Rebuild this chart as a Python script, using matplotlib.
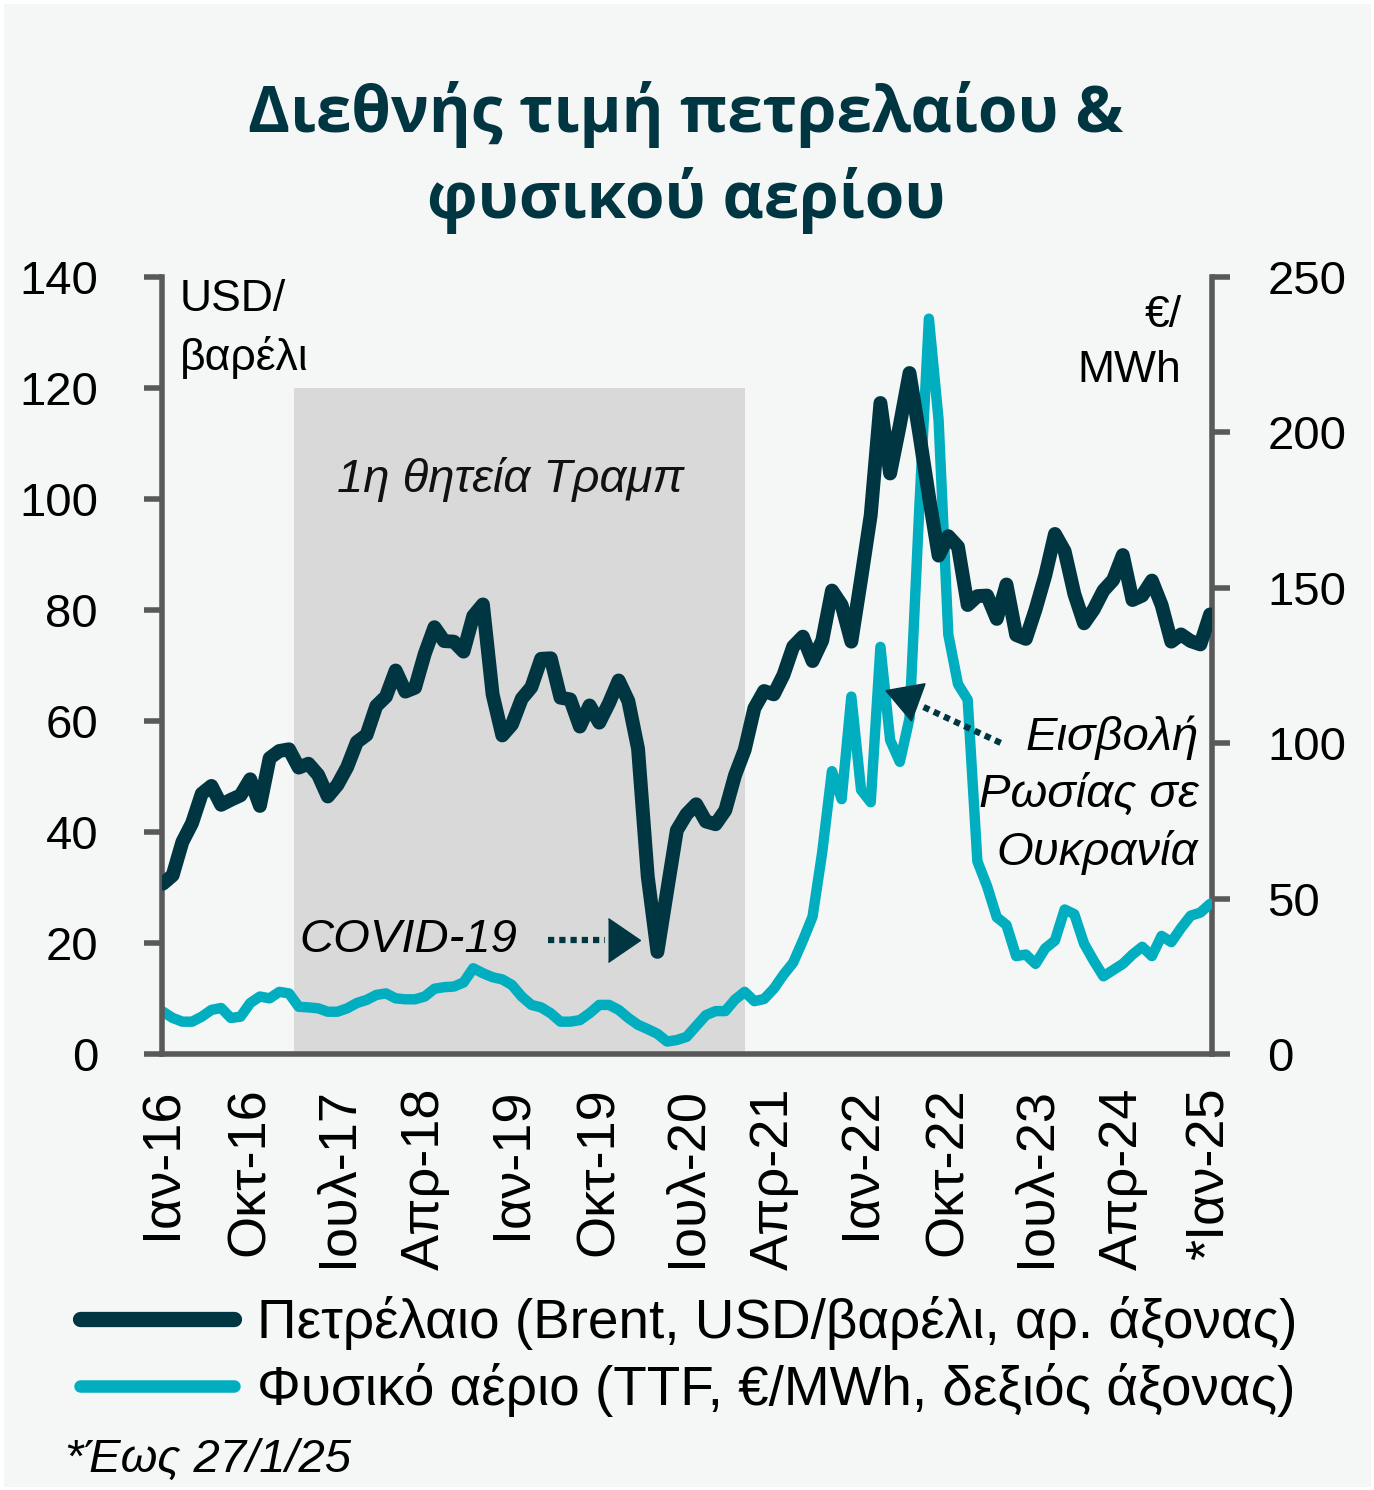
import matplotlib
matplotlib.use('Agg')
import matplotlib.pyplot as plt
from matplotlib.lines import Line2D

plt.rcParams['font.family'] = ['Liberation Sans', 'DejaVu Sans']

# monthly averages, Jan 2016 .. Jan 2025
oil = [30.7, 32.2, 38.2, 41.6, 46.9, 48.3, 44.9, 45.8, 46.6, 49.5, 44.7, 53.3,
       54.6, 54.9, 51.6, 52.3, 50.3, 46.4, 48.5, 51.7, 56.2, 57.5, 62.7, 64.4,
       69.1, 65.3, 66.0, 72.1, 76.9, 74.4, 74.3, 72.5, 78.9, 81.0, 64.8, 57.4,
       59.4, 64.0, 66.1, 71.2, 71.3, 64.2, 63.9, 59.0, 62.8, 59.7, 63.2, 67.3,
       63.6, 55.0, 32.0, 18.4, 29.4, 40.3, 43.2, 45.0, 41.9, 41.4, 43.9, 50.2,
       54.8, 62.3, 65.4, 64.8, 68.3, 73.4, 75.2, 70.8, 74.5, 83.5, 80.9, 74.3,
       85.5, 97.1, 117.3, 104.6, 113.3, 122.7, 111.9, 100.5, 89.8, 93.3, 91.4, 80.9,
       82.5, 82.6, 78.4, 84.6, 75.5, 74.8, 80.1, 86.2, 93.7, 90.6, 82.9, 77.6,
       80.1, 83.5, 85.4, 89.9, 81.8, 82.6, 85.3, 80.9, 74.3, 75.6, 74.4, 73.8,
       79.2]

gas = [13.6, 11.6, 10.4, 10.4, 12.0, 14.2, 14.8, 11.6, 12.0, 16.4, 18.5, 17.9,
       20.0, 19.5, 15.2, 15.0, 14.7, 13.6, 13.6, 14.7, 16.4, 17.4, 19.0, 19.5,
       17.9, 17.6, 17.6, 18.5, 21.0, 21.5, 21.7, 23.0, 27.6, 26.0, 24.7, 24.0,
       22.2, 18.5, 15.8, 15.0, 13.1, 10.4, 10.4, 10.9, 13.1, 15.8, 15.8, 14.2,
       11.6, 9.4, 8.0, 6.5, 4.0, 4.5, 5.5, 9.0, 12.5, 13.8, 13.8, 17.5,
       20.0, 17.0, 17.7, 21.0, 25.5, 29.4, 36.5, 44.2, 65.0, 91.0, 82.0, 115.0,
       85.0, 81.0, 131.0, 101.0, 94.0, 108.0, 175.0, 236.6, 204.0, 135.0, 119.0, 114.0,
       62.0, 54.0, 44.0, 41.5, 31.5, 32.0, 29.0, 34.0, 36.5, 46.5, 45.0, 35.5,
       30.0, 25.0, 27.0, 29.0, 32.0, 34.5, 31.5, 38.0, 36.0, 40.5, 44.5, 45.5,
       48.3]

tick_pos = list(range(0, 109, 9))
tick_labels = ['Ιαν-16', 'Οκτ-16', 'Ιουλ-17', 'Απρ-18', 'Ιαν-19', 'Οκτ-19', 'Ιουλ-20',
               'Απρ-21', 'Ιαν-22', 'Οκτ-22', 'Ιουλ-23', 'Απρ-24', '*Ιαν-25']

trump_term = (13.5, 60.0)   # month index range of the shaded box
trump_top = 120             # left axis value of the box top

OIL_C = '#003641'
GAS_C = '#00AEBF'
AX_C = '#595959'
BG = '#f5f7f6'

W, H = 1374, 1490
fig = plt.figure(figsize=(W / 100, H / 100), dpi=100)
fig.patch.set_facecolor(BG)
fig.patch.set_edgecolor('white')
fig.patch.set_linewidth(5)

ax = fig.add_axes([162 / W, 1 - 1054 / H, (1212 - 162) / W, (1054 - 277) / H])
ax2 = ax.twinx()
ax.set_facecolor('none')
ax2.set_facecolor('none')
ax.set_zorder(ax2.get_zorder() + 1)

x = list(range(len(oil)))

# shaded box lives on the right axis so the gas line sits on top of it
ax2.fill_between(trump_term, 0, trump_top * 250 / 140, color='#d9d9d9', lw=0, zorder=0)
ax.text(35.8, 103.5, '1η θητεία Τραμπ', style='italic', fontsize=34,
        ha='center', va='center', color='#111111')

ax2.plot(x, gas, color=GAS_C, lw=7.5, solid_joinstyle='round', solid_capstyle='round', zorder=3)
ax.plot(x, oil, color=OIL_C, lw=10, solid_joinstyle='round', solid_capstyle='round', zorder=4)

ax.set_xlim(-0.1, 108.2)
ax.set_ylim(0, 140)
ax2.set_ylim(0, 250)
ax.set_yticks(range(0, 141, 20))
ax2.set_yticks(range(0, 251, 50))
ax.set_xticks(tick_pos)
ax.set_xticklabels(tick_labels, rotation=90, ha='center', va='top')

for a in (ax, ax2):
    for s in a.spines.values():
        s.set_color(AX_C)
        s.set_linewidth(4)
    a.spines['top'].set_visible(False)
ax.spines['right'].set_visible(False)
ax2.spines['left'].set_visible(False)
ax2.spines['bottom'].set_visible(False)

ax.tick_params(axis='y', direction='out', length=13, width=4, color=AX_C,
               labelsize=34, pad=33)
ax2.tick_params(axis='y', direction='out', length=13, width=4, color=AX_C,
                labelsize=34, pad=27)
ax.tick_params(axis='x', length=0, labelsize=39, pad=24)

# unit labels
ax.text(0.017, 0.997, 'USD/\nβαρέλι', transform=ax.transAxes, fontsize=32,
        ha='left', va='top', linespacing=1.45)
ax2.text(0.971, 0.977, '€/\nMWh', transform=ax2.transAxes, fontsize=32,
         ha='right', va='top', linespacing=1.45)

# COVID annotation
ax.text(36.5, 20.5, 'COVID-19', style='italic', fontsize=34, ha='right', va='center')
ax.plot([39.7, 45.6], [20.5, 20.5], color=OIL_C, lw=4.5, ls=(0, (1, 0.8)), zorder=5)
ax.plot([45.9], [20.5], marker=[(0, -1.3), (1.9, 0), (0, 1.3)], ms=46,
        color=OIL_C, lw=0, zorder=5)

# Russia annotation
ax2.text(106.8, 108.8, 'Εισβολή\nΡωσίας σε\nΟυκρανία', style='italic', fontsize=34,
         ha='right', va='top', linespacing=1.37)
ax2.plot([86.4, 78.0], [100.1, 112.3], color=OIL_C, lw=4.5, ls=(0, (1, 0.8)), zorder=5)
ax2.plot([76.7], [114.5], marker=(3, 0, 190), ms=33, color=OIL_C, lw=0, zorder=5)

# title
for txt, yc in (('Διεθνής τιμή πετρελαίου &', 115), ('φυσικού αερίου', 200)):
    fig.text(686 / W, 1 - yc / H, txt, ha='center', va='center', fontsize=46,
             fontweight='bold', color=OIL_C, family=['Open Sans', 'DejaVu Sans'])

# legend
handles = [Line2D([], [], color=OIL_C, lw=11, solid_capstyle='round'),
           Line2D([], [], color=GAS_C, lw=9, solid_capstyle='round')]
fig.legend(handles, ['Πετρέλαιο (Brent, USD/βαρέλι, αρ. άξονας)',
                     'Φυσικό αέριο (TTF, €/MWh, δεξιός άξονας)'],
           loc='upper left', bbox_to_anchor=(80 / W, 1 - 1296 / H), frameon=False,
           fontsize=39.5, handlelength=2.8, handletextpad=0.42, labelspacing=0.24,
           borderaxespad=0, borderpad=0)

fig.text(65 / W, 1 - 1460 / H, '*Έως 27/1/25', style='italic', fontsize=34,
         ha='left', va='center')

fig.savefig('out.png', dpi=100, facecolor=fig.get_facecolor(), edgecolor='white')
